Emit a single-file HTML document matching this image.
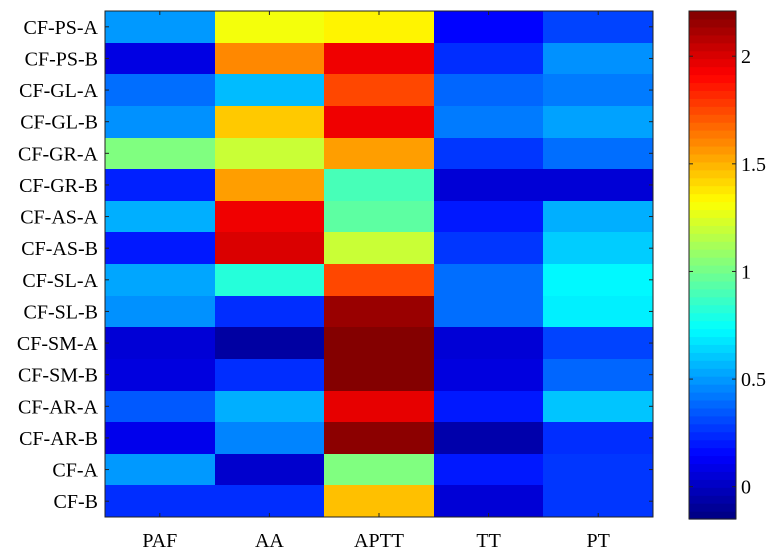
<!DOCTYPE html>
<html><head><meta charset="utf-8"><style>
body{margin:0;background:#fff;}
svg{display:block;font-family:"Liberation Serif",serif;}
</style></head><body>
<svg id="chart" width="773" height="555" viewBox="0 0 773 555"></svg>
<script>
const rows=["CF-PS-A","CF-PS-B","CF-GL-A","CF-GL-B","CF-GR-A","CF-GR-B","CF-AS-A","CF-AS-B","CF-SL-A","CF-SL-B","CF-SM-A","CF-SM-B","CF-AR-A","CF-AR-B","CF-A","CF-B"];
const cols=["PAF","AA","APTT","TT","PT"];
const paf=[0.5,0.08,0.4,0.48,1.03,0.22,0.55,0.2,0.53,0.48,0.05,0.07,0.35,0.1,0.5,0.25];
const aa=[1.3,1.6,0.58,1.45,1.2,1.55,1.95,2.0,0.82,0.25,-0.07,0.25,0.55,0.45,0.03,0.25];
const aptt=[1.35,1.95,1.75,1.95,1.55,0.9,0.95,1.2,1.75,2.15,2.2,2.2,1.97,2.18,1.03,1.47];
const tt=[0.15,0.25,0.38,0.43,0.27,0.05,0.2,0.27,0.4,0.4,0.05,0.07,0.2,-0.05,0.2,0.05];
const pt=[0.3,0.48,0.43,0.52,0.4,0.05,0.55,0.62,0.72,0.7,0.3,0.38,0.6,0.25,0.27,0.27];
const cbTicks=[0,0.5,1,1.5,2];
const series=[paf,aa,aptt,tt,pt];
const vmin=-0.15,vmax=2.21;
const L=105,T=11,R=653,B=517;
const cw=(R-L)/cols.length,rh=(B-T)/rows.length;
const CBL=689,CBR=736,CBT=11,CBB=519;
const NS="http://www.w3.org/2000/svg";
const svg=document.getElementById('chart');
function el(t,a,p){const e=document.createElementNS(NS,t);for(const k in a)e.setAttribute(k,a[k]);(p||svg).appendChild(e);return e;}
function jet(v){let t=(v-vmin)/(vmax-vmin);t=Math.max(0,Math.min(1,t));
 const f=x=>Math.round(255*Math.max(0,Math.min(1,x)));
 return `rgb(${f(1.5-Math.abs(4*t-3))},${f(1.5-Math.abs(4*t-2))},${f(1.5-Math.abs(4*t-1))})`;}
const cbY=v=>CBB-(v-vmin)/(vmax-vmin)*(CBB-CBT);
const g=el('g',{});


series.forEach((s,c)=>s.forEach((v,r)=>{
 const x0=Math.round(L+c*cw),x1=Math.round(L+(c+1)*cw),y0=Math.round(T+r*rh),y1=Math.round(T+(r+1)*rh);
 const e=el('rect',{x:x0,y:y0,width:x1-x0,height:y1-y0,fill:jet(v)},g);
 
 
}));
const fr=el('rect',{x:L,y:T,width:R-L,height:B-T,fill:'none',stroke:'#222','stroke-width':1});


rows.forEach((n,r)=>{const y=T+(r+0.5)*rh;
 const t=el('text',{x:98,y:y+7,'text-anchor':'end','font-size':20});t.textContent=n;
 
 
 el('line',{x1:L,x2:L+4,y1:y,y2:y,stroke:'#222'});el('line',{x1:R,x2:R-4,y1:y,y2:y,stroke:'#222'});});
cols.forEach((n,c)=>{const x=L+(c+0.5)*cw;
 const t=el('text',{x:x,y:547,'text-anchor':'middle','font-size':20});t.textContent=n;
 
 
 el('line',{x1:x,x2:x,y1:T,y2:T+4,stroke:'#222'});el('line',{x1:x,x2:x,y1:B,y2:B-4,stroke:'#222'});});
const cb=el('g',{});


const N=64;
for(let i=0;i<N;i++){const v0=vmin+(vmax-vmin)*i/N,v1=vmin+(vmax-vmin)*(i+1)/N;
 el('rect',{x:CBL,y:cbY(v1),width:CBR-CBL,height:cbY(v0)-cbY(v1)+0.6,fill:jet((v0+v1)/2)},cb);}
el('rect',{x:CBL,y:CBT,width:CBR-CBL,height:CBB-CBT,fill:'none',stroke:'#222'},cb);
cbTicks.forEach(v=>{const y=cbY(v);
 el('line',{x1:CBR,x2:CBR-4,y1:y,y2:y,stroke:'#222'},cb);el('line',{x1:CBL,x2:CBL+4,y1:y,y2:y,stroke:'#222'},cb);
 const t=el('text',{x:741,y:y+7,'font-size':20},cb);t.textContent=String(v);
 
 });
</script>
</body></html>
